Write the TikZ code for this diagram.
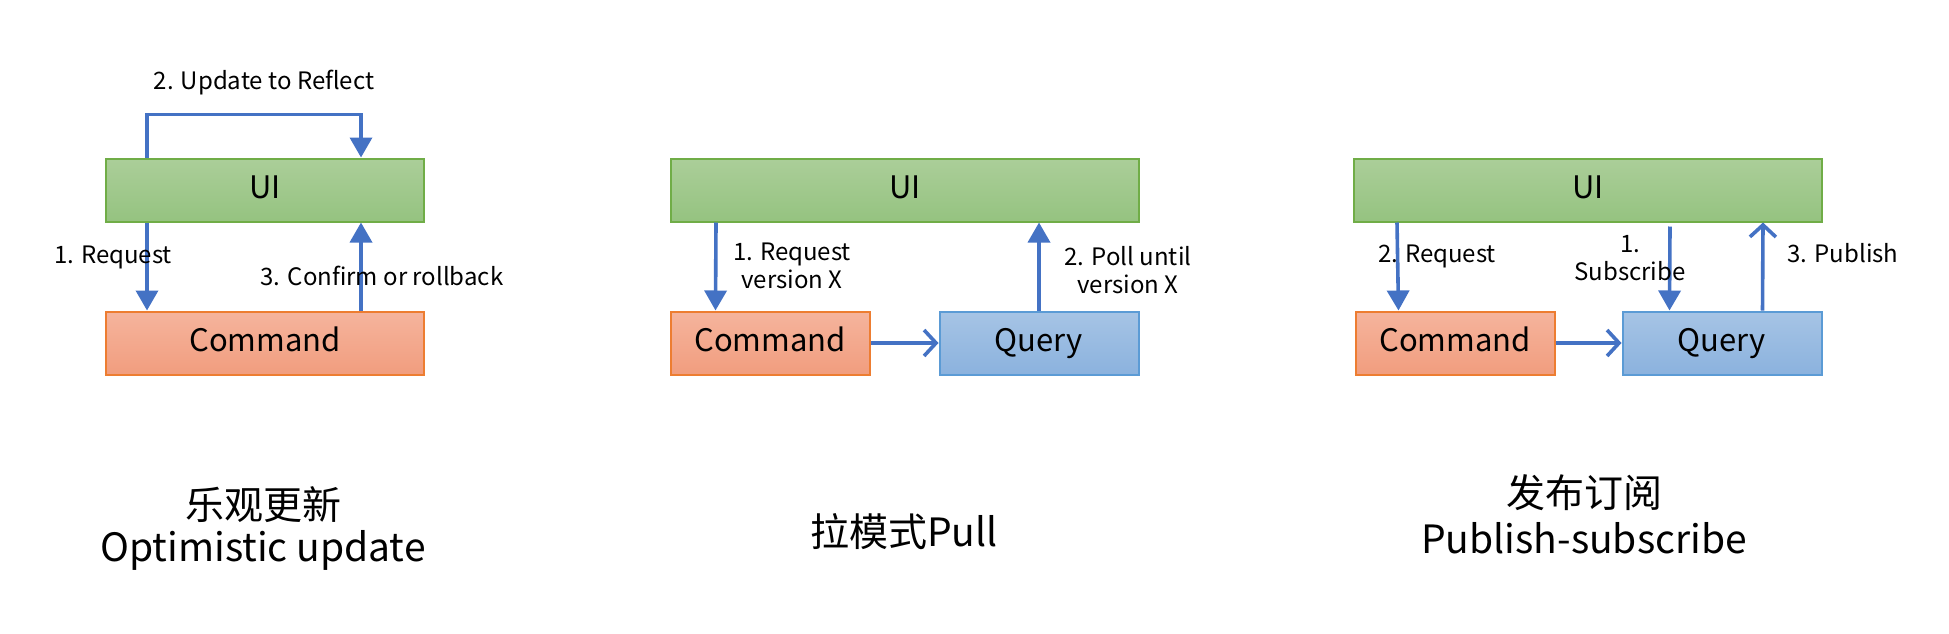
\documentclass[tikz,border=0pt]{standalone}
\usepackage{fontspec}
\setmainfont{Noto Sans CJK SC}
\usetikzlibrary{arrows.meta}

\definecolor{uiTop}{RGB}{171,206,153}
\definecolor{uiBot}{RGB}{149,195,128}
\definecolor{uiLine}{RGB}{112,173,71}
\definecolor{cmdTop}{RGB}{245,180,157}
\definecolor{cmdBot}{RGB}{241,157,126}
\definecolor{cmdLine}{RGB}{237,125,49}
\definecolor{qryTop}{RGB}{166,196,229}
\definecolor{qryBot}{RGB}{139,178,222}
\definecolor{qryLine}{RGB}{91,155,213}
\definecolor{flowBlue}{RGB}{68,114,196}

\begin{document}
\begin{tikzpicture}[
  x=0.5pt,
  y=-0.5pt, % <-- pixel grid, y downwards
  every node/.style={font=\fontsize{12}{14}\selectfont},
  box/.style={draw, line width=1pt, minimum height=31.5pt, inner sep=0pt,
    text height=11pt, text depth=3pt, font=\fontsize{15.5}{18}\selectfont},
  uibox/.style={box, draw=uiLine, top color=uiTop, bottom color=uiBot},
  cmdbox/.style={box, draw=cmdLine, top color=cmdTop, bottom color=cmdBot, minimum width=99.5pt},
  qrybox/.style={box, draw=qryLine, top color=qryTop, bottom color=qryBot, minimum width=99.5pt},
  flow/.style={draw=flowBlue, line width=1.8pt, -{Triangle[length=10pt,width=11pt]}},
  push/.style={draw=flowBlue, line width=1.8pt, -{Straight Barb[length=6pt,width=13pt,line width=1.8pt]}},
  lbl/.style={align=center, inner sep=0pt},
  title/.style={align=center, inner sep=0pt, font=\fontsize{19.5}{21}\selectfont}
]

\useasboundingbox (0,0) rectangle (1949,633);

% --- Optimistic update ---
\node[uibox, minimum width=159pt] (ui1) at (265,190) {UI};
\node[cmdbox, minimum width=159pt] (cmd1) at (265,343) {Command};
\draw[flow] ([xshift=21pt]ui1.north west) -- ++(0,-43) -| ([xshift=128pt]ui1.north west);
\draw[flow] ([xshift=21pt]ui1.south west) -- ([xshift=21pt]cmd1.north west);
\draw[flow] ([xshift=128pt]cmd1.north west) -- ([xshift=128pt]ui1.south west);
\node[lbl] (upd1) at (264,83) {2. Update to Reflect};
\node[lbl] (req1) at (113,257) {1. Request};
\node[lbl] (cnf1) at (382,276) {3. Confirm or rollback};
\node[title] (ttl1) at (263,528) {乐观更新\\Optimistic update};

% --- Pull ---
\node[uibox, minimum width=234pt] (ui2) at (905,190) {UI};
\node[cmdbox] (cmd2) at (770,343) {Command};
\node[qrybox] (qry2) at (1039,343) {Query};
\draw[flow] ([xshift=23pt]ui2.south west) -- ([xshift=23pt]cmd2.north west);
\draw[flow] (qry2.north) -- (qry2.north |- ui2.south);
\draw[push] (cmd2) -- (qry2);
\node[lbl] (req2) at (792,266) {1. Request\\version X};
\node[lbl] (pol2) at (1128,270) {2. Poll until\\version X};
\node[title] (ttl2) at (904,532) {拉模式Pull};

% --- Publish-subscribe ---
\node[uibox, minimum width=234pt] (ui3) at (1588,190) {UI};
\node[cmdbox] (cmd3) at (1455,343) {Command};
\node[qrybox] (qry3) at (1722,343) {Query};
\draw[flow] ([xshift=22pt]ui3.south west) -- ([xshift=22pt]cmd3.north west);
\draw[flow] ([xshift=-76.5pt,yshift=-2pt]ui3.south east) -- ([xshift=-76.5pt]qry3.north east);
\draw[push] ([xshift=-30pt]qry3.north east) -- ([xshift=-30pt]ui3.south east);
\draw[push] (cmd3) -- (qry3);
\node[lbl] (req3) at (1437,256) {2. Request};
\node[lbl] (sub3) at (1630,258) {1.\\Subscribe};
\node[lbl] (pub3) at (1843,253) {3. Publish};
\node[title, font=\fontsize{19.5}{23}\selectfont] (ttl3) at (1584,514) {发布订阅\\Publish-subscribe};

\end{tikzpicture}
\end{document}
